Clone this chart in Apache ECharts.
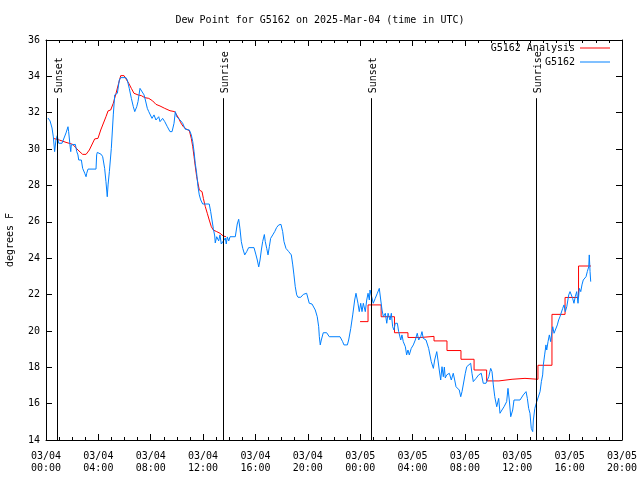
<!DOCTYPE html>
<html>
<head>
<meta charset="utf-8">
<script src="https://cdn.jsdelivr.net/npm/echarts@6/dist/echarts.min.js"></script>
<style>
html,body{margin:0;padding:0;background:#fff;}
#chart{width:640px;height:480px;}
</style>
</head>
<body>
<div id="chart"></div>
<script>
// ---- data (hours since 03/04 00:00 UTC, dew point in F) ----
var xTickLabels = ['03/04\n00:00','03/04\n04:00','03/04\n08:00','03/04\n12:00','03/04\n16:00','03/04\n20:00',
                   '03/05\n00:00','03/05\n04:00','03/05\n08:00','03/05\n12:00','03/05\n16:00','03/05\n20:00'];

var eventHours = [0.84, 13.52, 24.85, 37.45];
var eventNames = ['Sunset', 'Sunrise', 'Sunset', 'Sunrise'];

var analysisHours1 = [0.56,1.02,1.53,2.04,2.44,2.80,3.06,3.31,3.72,3.97,4.18,4.58,4.74,4.94,5.14,5.35,5.55,5.71,5.96,6.11,
  6.32,6.52,6.72,7.03,7.28,7.54,7.85,8.15,8.40,8.71,9.07,9.47,9.83,9.98,10.14,10.29,10.49,10.75,10.95,11.10,
  11.21,11.31,11.40,11.51,11.61,11.71,11.92,12.02,12.17,12.32,12.47,12.63,12.78,13.04,13.29,13.54,13.75];
var analysisValues1 = [30.59,30.5,30.37,30.26,29.95,29.71,29.71,29.95,30.56,30.59,31.05,31.78,32.1,32.15,32.52,33.07,33.62,34.04,34.04,33.86,
  33.62,33.34,33.07,32.98,32.94,32.83,32.79,32.65,32.46,32.37,32.24,32.11,32.06,31.97,31.69,31.45,31.23,31.09,31.01,30.59,
  30.13,29.58,29.07,28.48,28.12,27.75,27.66,27.29,26.83,26.47,26.1,25.73,25.55,25.46,25.37,25.22,25.18];

var analysisHours2 = [23.99,24.6,25.6,26.62,27.65,28.65,29.64,30.63,31.7,32.7,33.66,34.6,35.6,36.59,37.58,38.65,39.65,40.68,41.63];
var analysisValues2 = [20.51,21.43,20.78,19.9,19.64,19.7,19.45,18.92,18.44,17.85,17.25,17.34,17.39,17.34,18.11,20.91,21.84,23.57,23.57];

var obsHours = [
  0.15,0.31,0.46,0.56,0.66,0.76,0.86,0.97,1.22,1.32,
  1.53,1.68,1.73,1.83,1.89,1.93,2.24,2.35,2.44,2.50,
  2.70,2.80,2.96,3.06,3.11,3.21,3.82,3.87,3.92,4.22,
  4.33,4.48,4.58,4.68,4.74,4.84,4.99,5.14,5.25,5.45,
  5.60,5.71,6.11,6.21,6.36,6.52,6.67,6.78,6.93,7.03,
  7.18,7.28,7.49,7.59,7.74,7.85,7.94,8.10,8.25,8.40,
  8.61,8.71,8.91,9.07,9.27,9.47,9.63,9.78,9.88,9.98,
  10.24,10.44,10.64,10.95,11.10,11.21,11.31,11.40,11.51,11.61,
  11.71,11.82,11.97,12.47,12.58,12.68,12.78,12.89,12.93,13.04,
  13.19,13.29,13.39,13.54,13.70,13.77,13.85,13.96,14.06,14.46,
  14.61,14.72,14.82,14.92,15.03,15.18,15.33,15.48,15.89,16.04,
  16.14,16.25,16.35,16.45,16.55,16.68,16.75,16.86,16.96,17.06,
  17.16,17.32,17.47,17.62,17.78,17.95,18.08,18.18,18.33,18.54,
  18.74,18.85,18.94,19.04,19.15,19.25,19.46,19.66,19.91,20.01,
  20.11,20.32,20.47,20.57,20.72,20.83,20.88,20.95,21.03,21.18,
  21.44,21.64,22.46,22.66,22.76,23.02,23.12,23.28,23.43,23.58,
  23.68,23.83,23.93,24.04,24.14,24.24,24.39,24.50,24.60,24.70,
  24.75,24.90,25.00,25.15,25.31,25.46,25.57,25.67,25.77,25.92,
  26.03,26.13,26.28,26.38,26.48,26.58,26.68,26.84,26.94,27.10,
  27.19,27.29,27.45,27.55,27.65,27.75,27.90,28.06,28.21,28.36,
  28.47,28.62,28.72,28.82,29.03,29.23,29.33,29.43,29.59,29.69,
  29.85,29.94,30.04,30.15,
  30.25,30.35,30.43,30.50,30.61,
  30.81,30.96,31.11,31.22,31.32,31.47,31.57,31.68,31.78,31.88,
  32.03,32.14,32.29,32.44,32.54,32.64,32.85,33.05,33.25,33.40,
  33.61,33.82,33.97,34.07,34.17,34.28,34.43,34.58,34.68,34.83,
  34.99,35.19,35.29,35.39,35.50,35.65,35.75,36.21,36.36,36.46,
  36.67,36.77,36.87,36.97,37.07,37.18,37.23,37.34,37.49,37.64,
  37.74,37.84,37.94,37.99,38.09,38.19,38.25,38.35,38.45,38.55,
  38.65,38.71,38.81,38.96,39.06,39.16,39.26,39.37,39.47,39.57,
  39.67,39.78,39.93,40.03,40.13,40.23,40.33,40.43,40.54,40.64,
  40.74,40.85,40.94,41.04,41.15,41.25,41.35,41.46,41.50,41.56,41.61];
var obsValues = [
  31.71,31.55,31.16,30.67,29.86,30.5,30.74,30.32,30.32,30.5,
  30.89,31.23,30.96,30.23,29.86,30.23,30.26,29.86,29.68,29.4,
  29.4,28.94,28.67,28.48,28.67,28.9,28.9,29.68,29.82,29.71,
  29.58,28.94,28.21,27.38,28.03,28.76,30.04,31.88,32.98,33.07,
  33.8,33.93,33.93,33.8,33.34,32.79,32.33,32.06,32.33,32.61,
  33.34,33.31,32.98,32.7,32.24,32.06,32.15,31.69,31.88,31.6,
  31.78,31.51,31.69,31.51,31.23,30.96,30.96,31.42,32.06,31.78,
  31.6,31.42,31.09,31.05,30.78,30.41,29.86,29.22,28.67,27.93,
  27.48,27.2,26.98,26.98,26.56,26.1,25.64,25.22,24.84,25.18,
  24.95,25.28,24.78,24.73,25.11,24.78,25.17,24.95,25.18,25.18,
  25.88,26.14,25.61,24.91,24.54,24.18,24.36,24.58,24.58,24.18,
  23.9,23.52,23.9,24.45,24.91,25.3,24.91,24.54,24.18,24.63,
  25.09,25.28,25.46,25.69,25.83,25.86,25.46,24.91,24.54,24.36,
  24.18,23.63,23.08,22.43,21.98,21.85,21.85,22.01,22.07,21.98,
  21.52,21.48,21.43,21.15,20.78,20.23,19.68,19.23,19.5,19.9,
  19.9,19.68,19.68,19.41,19.23,19.23,19.5,20.14,20.88,21.7,
  22.07,21.52,21.06,21.52,21.06,21.52,21.06,21.7,22.07,21.7,
  22.25,22.25,21.52,21.79,22.07,22.34,21.7,21.15,20.78,20.97,
  20.42,20.97,20.6,20.97,20.23,20.05,20.42,20.42,19.96,19.5,
  19.78,19.41,19.13,18.68,18.95,18.68,19.04,19.23,19.5,19.87,
  19.5,19.68,19.96,19.59,19.5,19.04,18.95,18.31,17.94,18.4,
  18.86,18.4,17.85,17.3,
  18.03,17.48,18.01,17.41,17.58,
  17.67,17.3,17.67,17.3,16.93,17.03,16.75,16.38,16.66,16.75,
  17.67,18.03,18.13,18.22,17.67,17.21,17.39,17.58,17.67,17.12,
  17.12,17.48,17.94,17.76,17.03,16.38,15.83,16.29,15.47,15.65,
  15.83,16.11,16.84,16.2,15.28,15.65,16.2,16.2,16.11,16.48,
  16.66,16.29,15.74,15.47,14.64,14.46,15.1,15.74,16.11,16.2,
  16.66,17.21,17.58,18.13,18.68,19.23,18.95,19.41,19.78,19.41,
  19.96,20.23,19.87,19.87,20.33,20.6,20.78,20.88,21.24,21.43,
  21.06,21.33,21.98,22.16,22.07,21.79,21.52,21.88,22.16,21.52,
  22.34,22.16,22.53,22.8,22.89,22.98,23.26,23.53,24.18,23.26,22.71];

// ---- build chart ----
var FONT = 'DejaVu Sans Mono';
function pairs(xs, ys) { return xs.map(function (x, i) { return [x, ys[i]]; }); }

var markData = [];
eventHours.forEach(function (h, i) {
  markData.push([{ coord: [h, 14], label: { show: false } }, { coord: [h, 32.8], label: { show: false } }]);
  var lbl = { show: true, formatter: eventNames[i], position: 'insideStartTop', distance: -7,
              color: '#000', fontFamily: FONT, fontSize: 10 };
  var ls = { color: 'rgba(0,0,0,0)', width: 1 };
  markData.push([{ coord: [h, 33.45], lineStyle: ls, label: lbl },
                 { coord: [h, 36], lineStyle: ls, label: lbl }]);
});

function xAxisDef(pos, interval, tickLen, showLine, showLabel) {
  return {
    type: 'value', min: 0, max: 44, interval: interval, position: pos,
    axisLine: { show: showLine, onZero: false, lineStyle: { color: '#000', width: 1 } },
    axisTick: { show: true, inside: true, length: tickLen, lineStyle: { color: '#000', width: 1 } },
    splitLine: { show: false },
    axisLabel: showLabel ? { show: true, color: '#000', fontFamily: FONT, fontSize: 10, lineHeight: 12, margin: 10,
        formatter: function (v) { return xTickLabels[Math.round(v / 4)]; } } : { show: false }
  };
}
var axisCommonY = {
  type: 'value', min: 14, max: 36, interval: 2,
  axisLine: { show: true, onZero: false, lineStyle: { color: '#000', width: 1 } },
  axisTick: { show: true, inside: true, length: 6, lineStyle: { color: '#000', width: 1 } },
  splitLine: { show: false }
};

var chart = echarts.init(document.getElementById('chart'), null, { renderer: 'canvas' });
chart.setOption({
  animation: false,
  backgroundColor: '#fff',
  title: {
    text: 'Dew Point for G5162 on 2025-Mar-04 (time in UTC)',
    left: 'center', top: 15, padding: 0,
    textStyle: { fontFamily: FONT, fontSize: 10, fontWeight: 'normal', color: '#000' }
  },
  legend: [
    { data: ['G5162 Analysis'], right: 30, top: 43, padding: 0, align: 'right', icon: 'rect',
      itemWidth: 30, itemHeight: 1, itemGap: 0,
      textStyle: { fontFamily: FONT, fontSize: 10, color: '#000' } },
    { data: ['G5162'], right: 30, top: 57, padding: 0, align: 'right', icon: 'rect',
      itemWidth: 30, itemHeight: 1, itemGap: 0,
      textStyle: { fontFamily: FONT, fontSize: 10, color: '#000' } }
  ],
  grid: { left: 46, right: 18, top: 40, bottom: 40, containLabel: false, outerBoundsMode: 'none' },
  xAxis: [
    xAxisDef('bottom', 4, 6, true, true),
    xAxisDef('top', 4, 6, true, false),
    xAxisDef('bottom', 1, 3, false, false),
    xAxisDef('top', 1, 3, false, false)
  ],
  yAxis: [
    Object.assign({}, axisCommonY, { position: 'left',
      name: 'degrees F', nameLocation: 'middle', nameGap: 31, nameRotate: 90,
      nameTextStyle: { fontFamily: FONT, fontSize: 10, color: '#000' },
      axisLabel: { show: true, color: '#000', fontFamily: FONT, fontSize: 10, margin: 6 } }),
    Object.assign({}, axisCommonY, { position: 'right', axisLabel: { show: false } })
  ],
  series: [
    { name: 'G5162 Analysis', type: 'line', xAxisIndex: 0, yAxisIndex: 0,
      data: pairs(analysisHours1, analysisValues1), showSymbol: false, symbol: 'none',
      color: '#ff0000', lineStyle: { color: '#ff0000', width: 1 }, z: 2 },
    { name: 'G5162 Analysis', type: 'line', xAxisIndex: 0, yAxisIndex: 0, step: 'end',
      data: pairs(analysisHours2, analysisValues2), showSymbol: false, symbol: 'none',
      color: '#ff0000', lineStyle: { color: '#ff0000', width: 1 }, z: 2 },
    { name: 'G5162', type: 'line', xAxisIndex: 0, yAxisIndex: 0,
      data: pairs(obsHours, obsValues), showSymbol: false, symbol: 'none',
      color: '#0080ff', lineStyle: { color: '#0080ff', width: 1 }, z: 3,
      markLine: { silent: true, symbol: ['none', 'none'], animation: false,
        lineStyle: { color: '#000', width: 1, type: 'solid' },
        label: { show: false },
        data: markData } }
  ]
});
</script>
</body>
</html>
